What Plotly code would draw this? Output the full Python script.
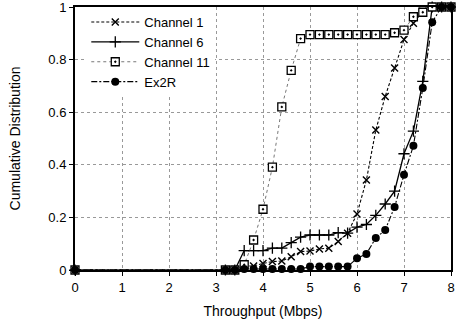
import plotly.graph_objects as go

throughput = [0, 3.2, 3.4, 3.6, 3.8, 4.0, 4.2, 4.4, 4.6, 4.8, 5.0, 5.2, 5.4, 5.6, 5.8,
              6.0, 6.2, 6.4, 6.6, 6.8, 7.0, 7.2, 7.4, 7.6, 7.8, 8.0]

channel1 = [0, 0, 0, 0.015, 0.015, 0.025, 0.032, 0.034, 0.05, 0.07, 0.072, 0.08, 0.083, 0.108, 0.14,
            0.213, 0.342, 0.532, 0.66, 0.768, 0.876, 0.938, 0.984, 1, 1, 1]
channel6 = [0, 0, 0, 0.074, 0.074, 0.074, 0.083, 0.083, 0.104, 0.125, 0.133, 0.133, 0.133, 0.142, 0.14,
            0.163, 0.173, 0.208, 0.251, 0.3, 0.442, 0.528, 0.717, 1, 1, 1]
channel11 = [0, 0, 0, 0.02, 0.114, 0.231, 0.391, 0.62, 0.759, 0.88, 0.895, 0.895, 0.895, 0.895, 0.895,
             0.895, 0.895, 0.895, 0.895, 0.902, 0.912, 0.963, 0.98, 1, 1, 1]
ex2r = [0, 0, 0, 0.004, 0.004, 0.004, 0.004, 0.004, 0.004, 0.004, 0.013, 0.013, 0.013, 0.013, 0.013,
        0.045, 0.061, 0.122, 0.152, 0.24, 0.362, 0.472, 0.692, 0.942, 1, 1]

x_ticks = [0, 1, 2, 3, 4, 5, 6, 7, 8]
y_ticks = [0, 0.2, 0.4, 0.6, 0.8, 1]
y_tick_labels = ["0", "0.2", "0.4", "0.6", "0.8", "1"]

FONT = "Arial, Liberation Sans, sans-serif"

fig = go.Figure()
fig.add_trace(go.Scatter(
    x=throughput, y=channel1, name="Channel 1", mode="lines+markers",
    line=dict(color="black", width=1.1, dash="3px,2px"),
    marker=dict(symbol="x-thin", size=7, line=dict(color="black", width=1.4)),
    cliponaxis=False))
fig.add_trace(go.Scatter(
    x=throughput, y=channel6, name="Channel 6", mode="lines+markers",
    line=dict(color="black", width=1.3),
    marker=dict(symbol="cross-thin", size=8, line=dict(color="black", width=1.3)),
    cliponaxis=False))
fig.add_trace(go.Scatter(
    x=throughput, y=channel11, name="Channel 11", mode="lines+markers",
    line=dict(color="#777777", width=1, dash="dot"),
    marker=dict(symbol="square-dot", size=8, color="white", line=dict(color="black", width=1.3)),
    cliponaxis=False))
fig.add_trace(go.Scatter(
    x=throughput, y=ex2r, name="Ex2R", mode="lines+markers",
    line=dict(color="black", width=1.1, dash="6px,2px,2px,2px"),
    marker=dict(symbol="circle", size=8, color="black"),
    cliponaxis=False))

fig.update_layout(
    width=456, height=323,
    margin=dict(l=75, r=5, t=7, b=53),
    paper_bgcolor="white", plot_bgcolor="white",
    font=dict(family=FONT, size=13, color="black"),
    showlegend=True,
    legend=dict(x=0.03, y=1.0, xanchor="left", yanchor="top",
                bgcolor="white", borderwidth=0, itemwidth=48,
                font=dict(family=FONT, size=13, color="black"),
                tracegroupgap=0),
)
fig.update_xaxes(
    range=[0, 8], tickvals=x_ticks, ticktext=[str(v) for v in x_ticks],
    showgrid=True, gridcolor="#999999", griddash="dot", gridwidth=1,
    showline=True, linecolor="black", linewidth=2, mirror=True,
    ticks="outside", ticklen=4, tickcolor="black",
    zeroline=False, automargin=False, ticklabeloverflow="allow",
    title=dict(text="Throughput (Mbps)", font=dict(family=FONT, size=14), standoff=13),
)
fig.update_yaxes(
    range=[0, 1], tickvals=y_ticks, ticktext=y_tick_labels,
    showgrid=True, gridcolor="#999999", griddash="dot", gridwidth=1,
    showline=True, linecolor="black", linewidth=2, mirror=True,
    ticks="outside", ticklen=4, tickcolor="black",
    zeroline=False, automargin=False, ticklabeloverflow="allow",
    title=dict(text="Cumulative Distribution", font=dict(family=FONT, size=14), standoff=24),
)

# remove the default 8px page margin so the figure fills the window exactly
fig.write_html("out.html",
               config={"displayModeBar": False, "staticPlot": True},
               post_script="document.body.style.margin='0';document.body.style.overflow='hidden';")
